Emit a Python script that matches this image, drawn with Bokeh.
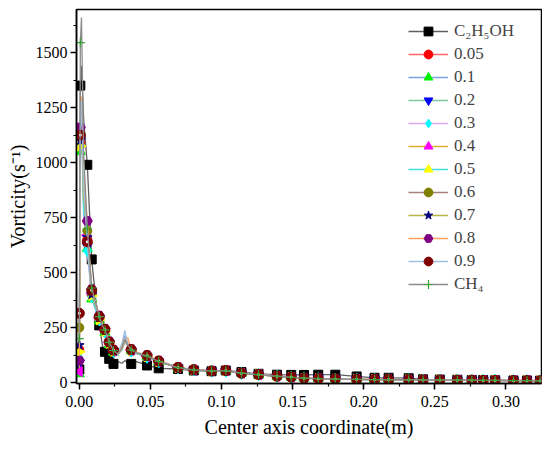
import numpy as np
from bokeh.plotting import figure
from bokeh.models import (Range1d, SingleIntervalTicker, NumeralTickFormatter,
                          Legend, LegendItem, ColumnDataSource)
from bokeh.embed import file_html
from bokeh.resources import INLINE

# ---- data ----
X = [0.0, 0.0007, 0.0015, 0.003, 0.0056, 0.0087, 0.0115, 0.014, 0.0165, 0.018,
     0.021, 0.024, 0.027, 0.030, 0.032, 0.034, 0.0365, 0.040, 0.044, 0.0476,
     0.0558, 0.0694, 0.0805, 0.093, 0.103, 0.114, 0.126, 0.139, 0.149, 0.158,
     0.168, 0.180, 0.195, 0.2076, 0.2175, 0.2316, 0.2417, 0.2535, 0.2658, 0.276,
     0.284, 0.2924, 0.3053, 0.3148, 0.324]
MARK_IDX = [0, 1, 4, 5, 7, 9, 10, 11, 16, 19, 20] + list(range(21, 45))

C2H5OH = [60, 1350, 1440, 1200, 990, 560, 380, 260, 160, 140, 108, 85, 95, 88, 100, 90, 85, 95, 88, 78, 65,
          62, 55, 52, 55, 48, 40, 36, 35, 35, 36, 36, 28, 22, 22, 20, 15, 14, 13, 12, 12, 11, 10, 10, 9]
S005 = [150, 1090, 1250, 850, 650, 400, 340, 290, 250, 232, 178, 140, 128, 150, 185, 165, 142, 132, 126, 116, 95,
        68, 58, 52, 53, 42, 36, 28, 24, 19, 18, 16, 15, 14, 13, 13, 12, 12, 11, 11, 10, 10, 9, 9, 8]
S01 = [40, 1050, 1290, 900, 610, 380, 330, 280, 242, 228, 172, 138, 130, 165, 215, 180, 145, 135, 127, 118, 96,
       67, 58, 53, 54, 43, 36, 29, 24, 20, 18, 16, 15, 14, 14, 13, 12, 12, 11, 11, 10, 10, 9, 9, 8]
S02 = [90, 1100, 1270, 800, 620, 395, 345, 290, 248, 235, 180, 142, 127, 155, 195, 170, 144, 133, 125, 117, 95,
       68, 57, 52, 53, 42, 35, 28, 24, 19, 18, 16, 15, 14, 13, 13, 12, 12, 11, 11, 10, 10, 9, 9, 8]
S03 = [110, 1080, 1200, 760, 600, 390, 340, 285, 245, 230, 176, 141, 126, 150, 185, 168, 143, 131, 124, 115, 94,
       67, 58, 52, 52, 42, 36, 28, 24, 19, 18, 16, 15, 14, 13, 13, 12, 12, 11, 11, 10, 10, 9, 9, 8]
S04 = [50, 1110, 1220, 820, 670, 405, 350, 295, 252, 238, 182, 145, 130, 160, 200, 175, 148, 136, 128, 119, 97,
       69, 58, 53, 54, 43, 36, 29, 24, 20, 18, 16, 15, 14, 13, 13, 12, 12, 11, 11, 10, 10, 9, 9, 8]
S05 = [140, 1075, 1180, 780, 640, 395, 335, 285, 246, 232, 178, 142, 127, 152, 190, 168, 146, 134, 126, 117, 95,
       68, 58, 52, 53, 42, 36, 28, 24, 19, 18, 16, 15, 14, 13, 13, 12, 12, 11, 11, 10, 10, 9, 9, 8]
S06 = [250, 1120, 1260, 880, 690, 410, 355, 300, 255, 240, 184, 146, 131, 158, 198, 176, 150, 138, 129, 121, 98,
       69, 59, 53, 54, 43, 37, 29, 25, 20, 18, 17, 15, 14, 14, 13, 12, 12, 11, 11, 10, 10, 9, 9, 8]
S07 = [170, 1100, 1230, 850, 660, 400, 350, 295, 250, 236, 180, 143, 129, 155, 192, 172, 147, 135, 127, 119, 96,
       68, 58, 52, 53, 42, 36, 28, 24, 19, 18, 16, 15, 14, 13, 13, 12, 12, 11, 11, 10, 10, 9, 9, 8]
S08 = [100, 1160, 1300, 950, 735, 425, 365, 305, 260, 245, 188, 150, 135, 165, 190, 205, 152, 140, 131, 125, 100,
       70, 59, 54, 55, 44, 37, 30, 25, 20, 19, 17, 16, 15, 14, 13, 13, 12, 12, 11, 11, 10, 10, 9, 9]
S09 = [315, 1125, 1280, 900, 640, 420, 360, 300, 258, 242, 185, 148, 133, 180, 237, 170, 150, 138, 130, 123, 98,
       69, 59, 53, 55, 43, 37, 29, 25, 20, 18, 17, 15, 14, 14, 13, 12, 12, 11, 11, 10, 10, 9, 9, 8]
CH4 = [200, 1545, 1660, 1050, 700, 430, 360, 300, 256, 240, 183, 146, 131, 158, 196, 172, 148, 136, 128, 120, 97,
       68, 58, 53, 54, 43, 36, 29, 24, 20, 18, 16, 15, 14, 13, 13, 12, 12, 11, 11, 10, 10, 9, 9, 8]

LABELS = ["C\u2082H\u2085OH", "0.05", "0.1", "0.2", "0.3", "0.4", "0.5", "0.6", "0.7", "0.8", "0.9", "CH\u2084"]
SERIES = [C2H5OH, S005, S01, S02, S03, S04, S05, S06, S07, S08, S09, CH4]

# ---- styles ----
LINE_COLORS = ["#606060", "#ff6666", "#7ba3e0", "#7cc9a0", "#d9a9f2", "#e0b030",
               "#45e0e0", "#a88080", "#b5b545", "#ff9f60", "#a0c0e0", "#8c8c8c"]
MARKERS = ["square", "circle", "triangle", "inverted_triangle", "diamond", "triangle",
           "triangle", "circle", "star", "hex", "circle", "cross"]
ANGLES = [0, 0, 0, 0, 0, np.pi / 2, -np.pi / 2, 0, 0, 0, 0, 0]
MCOLORS = ["#000000", "#ff0000", "#00ee00", "#0000ff", "#00ffff", "#ff00ff",
           "#ffff00", "#808000", "#000080", "#800080", "#800000", "#33a033"]
MSIZES = [9, 9, 10, 10, 12, 10, 10, 9, 10, 10, 10, 9]

FONT = "Liberation Serif"

p = figure(width=542, height=446, output_backend="svg", toolbar_location=None,
           x_range=Range1d(-0.002, 0.325), y_range=Range1d(-4, 1696),
           min_border_left=76, min_border_right=1, min_border_top=9, min_border_bottom=63)
p.xgrid.visible = False
p.ygrid.visible = False
p.outline_line_color = "black"
p.outline_line_width = 1.5
p.background_fill_color = "white"

p.xaxis.ticker = SingleIntervalTicker(interval=0.05, num_minor_ticks=2)
p.yaxis.ticker = SingleIntervalTicker(interval=250, num_minor_ticks=2)
p.xaxis.formatter = NumeralTickFormatter(format="0.00")
for ax in (p.xaxis, p.yaxis):
    ax.axis_line_width = 1.5
    ax.axis_line_color = "black"
    ax.major_tick_in = 0
    ax.major_tick_out = 6
    ax.minor_tick_in = 0
    ax.minor_tick_out = 3
    ax.major_tick_line_width = 1.5
    ax.minor_tick_line_width = 1.2
    ax.major_label_text_font = FONT
    ax.major_label_text_font_size = "16px"
    ax.major_label_text_color = "black"
    ax.axis_label_text_font = FONT
    ax.axis_label_text_font_size = "20px"
    ax.axis_label_text_font_style = "normal"
    ax.axis_label_text_color = "black"
p.xaxis.major_label_standoff = 6
p.yaxis.major_label_standoff = 3
p.xaxis.axis_label = "Center axis coordinate(m)"
p.yaxis.axis_label = "Vorticity(s\u207b\u00b9)"
p.xaxis.axis_label_standoff = 6
p.yaxis.axis_label_standoff = 4

items = []
for i, ys in enumerate(SERIES):
    src = ColumnDataSource(dict(x=X, y=ys))
    mx = [X[k] for k in MARK_IDX]
    my = [ys[k] for k in MARK_IDX]
    msrc = ColumnDataSource(dict(x=mx, y=my, a=[ANGLES[i]] * len(mx)))
    lr = p.line("x", "y", source=src, line_color=LINE_COLORS[i], line_width=1.3)
    if MARKERS[i] == "cross":
        mr = p.scatter("x", "y", source=msrc, marker="cross", size=MSIZES[i],
                       line_color=MCOLORS[i], line_width=1.2)
    else:
        mr = p.scatter("x", "y", source=msrc, marker=MARKERS[i], size=MSIZES[i],
                       angle="a", fill_color=MCOLORS[i], line_color=MCOLORS[i])
        if i == 10:
            p.scatter("x", "y", source=msrc, marker="circle", size=3,
                      fill_color="white", line_color=None)
    items.append(LegendItem(label=LABELS[i], renderers=[lr, mr]))

legend = Legend(items=items, location=(332, 88), glyph_width=40, glyph_height=22,
                label_height=22, spacing=1, padding=0, margin=0, label_standoff=6,
                border_line_color=None, background_fill_alpha=0,
                label_text_font=FONT, label_text_font_size="17px")
p.add_layout(legend)

open("out.html", "w").write(file_html(p, INLINE))
